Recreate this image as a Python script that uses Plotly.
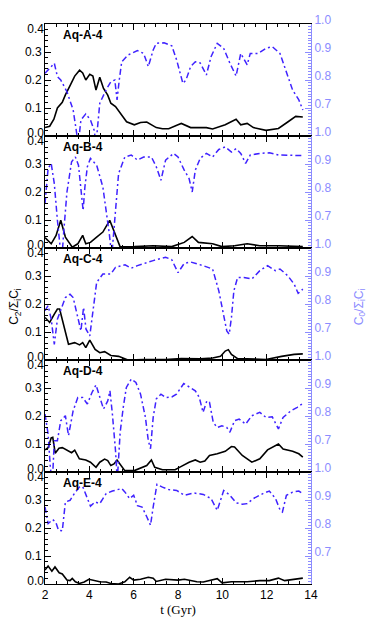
import plotly.graph_objects as go
from plotly.subplots import make_subplots

# ---- data (t in Gyr) ----
panels = ["Aq-A-4", "Aq-B-4", "Aq-C-4", "Aq-D-4", "Aq-E-4"]

tA_k = [2.0, 2.21, 2.4, 2.56, 2.78, 2.92, 3.13, 3.34, 3.56, 3.7, 3.84, 4.02, 4.16, 4.3, 4.47, 4.64, 4.83, 4.97,
        5.18, 5.39, 5.68, 6.03, 6.31, 6.59, 6.8, 7.02, 7.3, 7.58, 8.0, 8.15, 8.57, 9.28, 9.56, 10.13, 10.62, 10.83,
        11.12, 11.4, 11.97, 12.53, 12.95, 13.31, 13.63]
kA = [0.03, 0.035, 0.06, 0.10, 0.12, 0.147, 0.18, 0.214, 0.235, 0.225, 0.20, 0.22, 0.214, 0.164, 0.21, 0.17, 0.146,
      0.117, 0.105, 0.081, 0.051, 0.04, 0.048, 0.05, 0.04, 0.03, 0.026, 0.026, 0.04, 0.045, 0.03, 0.03, 0.025, 0.04,
      0.06, 0.04, 0.045, 0.03, 0.02, 0.027, 0.05, 0.07, 0.068]
tA_b = [2.0, 2.21, 2.42, 2.56, 2.71, 2.99, 3.27, 3.41, 3.5, 3.62, 3.84, 4.05, 4.22, 4.3, 4.47, 4.75, 4.97, 5.15,
        5.25, 5.35, 5.46, 5.74, 6.17, 6.45, 6.66, 6.88, 7.02, 7.37, 7.72, 7.94, 8.22, 8.36, 8.57, 8.78, 9.0, 9.28,
        9.49, 9.77, 10.06, 10.34, 10.62, 10.83, 11.12, 11.26, 11.61, 11.97, 12.25, 12.6, 12.89, 13.17, 13.45, 13.63]
bA = [0.824, 0.842, 0.86, 0.812, 0.80, 0.758, 0.693, 0.62, 0.57, 0.657, 0.679, 0.657, 0.62, 0.57, 0.717, 0.764,
      0.794, 0.80, 0.729, 0.80, 0.865, 0.889, 0.905, 0.895, 0.848, 0.907, 0.931, 0.933, 0.922, 0.871, 0.788, 0.80,
      0.848, 0.865, 0.861, 0.818, 0.883, 0.931, 0.913, 0.86, 0.814, 0.895, 0.854, 0.895, 0.895, 0.913, 0.919,
      0.895, 0.83, 0.764, 0.729, 0.693]

tB_k = [2.0, 2.28, 2.5, 2.71, 2.92, 3.23, 3.48, 3.7, 3.84, 4.05, 4.33, 4.61, 4.92, 5.18, 5.39, 6.03, 6.88, 7.72,
        8.28, 8.64, 8.92, 9.56, 9.98, 10.55, 11.12, 11.69, 12.53, 13.63]
kB = [0.037, 0.015, 0.045, 0.099, 0.039, 0.003, 0.015, 0.045, 0.015, 0.02, 0.039, 0.057, 0.099, 0.045, 0.004,
      0.005, 0.008, 0.005, 0.02, 0.041, 0.02, 0.015, 0.005, 0.008, 0.015, 0.008, 0.008, 0.005]
tB_b = [2.0, 2.14, 2.28, 2.42, 2.56, 2.75, 2.85, 2.99, 3.2, 3.37, 3.51, 3.62, 3.72, 3.8, 3.91, 4.05, 4.33, 4.61,
        4.76, 4.9, 5.01, 5.15, 5.32, 5.6, 5.89, 6.17, 6.45, 6.8, 7.02, 7.23, 7.44, 7.8, 8.0, 8.28, 8.5, 8.64, 8.78,
        9.0, 9.28, 9.56, 9.84, 10.13, 10.41, 10.62, 10.83, 11.05, 11.26, 11.69, 12.12, 12.53, 13.08, 13.63]
bB = [0.758, 0.884, 0.902, 0.83, 0.699, 0.55, 0.663, 0.80, 0.908, 0.925, 0.896, 0.818, 0.734, 0.818, 0.89, 0.92,
      0.896, 0.818, 0.734, 0.651, 0.57, 0.699, 0.866, 0.925, 0.932, 0.914, 0.925, 0.925, 0.89, 0.842, 0.914, 0.938,
      0.925, 0.878, 0.848, 0.80, 0.878, 0.92, 0.938, 0.925, 0.952, 0.961, 0.943, 0.955, 0.938, 0.902, 0.932, 0.938,
      0.94, 0.932, 0.932, 0.93]

tC_k = [2.0, 2.21, 2.42, 2.56, 2.66, 2.85, 3.06, 3.34, 3.56, 3.7, 3.84, 4.02, 4.26, 4.47, 4.69, 4.97, 5.32, 5.74,
        6.45, 7.44, 8.15, 9.0, 9.56, 9.92, 10.13, 10.27, 10.41, 10.69, 11.4, 11.97, 12.67, 13.24, 13.63]
kC = [0.152, 0.134, 0.164, 0.182, 0.182, 0.122, 0.056, 0.062, 0.054, 0.062, 0.044, 0.071, 0.038, 0.026, 0.03,
      0.016, 0.013, 0.0, 0.002, 0.002, 0.005, 0.004, 0.007, 0.013, 0.032, 0.037, 0.02, 0.005, 0.002, 0.002, 0.013,
      0.02, 0.022]
tC_b = [2.0, 2.14, 2.28, 2.42, 2.56, 2.71, 2.92, 3.13, 3.27, 3.48, 3.62, 3.74, 3.85, 4.02, 4.19, 4.33, 4.61, 4.97,
        5.18, 5.61, 5.89, 6.17, 6.88, 7.44, 7.72, 8.0, 8.28, 8.57, 9.13, 9.56, 9.84, 10.06, 10.2, 10.31, 10.41,
        10.52, 10.69, 10.97, 11.33, 11.69, 12.04, 12.39, 12.6, 12.95, 13.24, 13.42, 13.63]
bC = [0.776, 0.794, 0.746, 0.656, 0.746, 0.776, 0.823, 0.835, 0.823, 0.752, 0.704, 0.788, 0.71, 0.686, 0.788,
      0.877, 0.907, 0.907, 0.931, 0.94, 0.928, 0.937, 0.955, 0.967, 0.958, 0.912, 0.945, 0.95, 0.937, 0.925, 0.847,
      0.764, 0.704, 0.692, 0.752, 0.847, 0.895, 0.895, 0.889, 0.919, 0.937, 0.919, 0.925, 0.901, 0.871, 0.838, 0.853]

tD_k = [2.0, 2.14, 2.28, 2.35, 2.46, 2.63, 2.78, 3.06, 3.2, 3.34, 3.55, 3.84, 4.05, 4.3, 4.47, 4.69, 4.83, 4.97,
        5.11, 5.25, 5.39, 5.6, 6.03, 6.59, 6.8, 6.95, 7.3, 7.87, 8.15, 8.5, 8.78, 9.0, 9.21, 9.42, 9.77, 10.13,
        10.41, 10.55, 10.9, 11.33, 11.69, 12.04, 12.53, 12.74, 13.17, 13.45, 13.63]
kD = [0.079, 0.087, 0.122, 0.124, 0.067, 0.085, 0.087, 0.075, 0.069, 0.078, 0.047, 0.043, 0.035, 0.017, 0.035,
      0.046, 0.041, 0.023, 0.029, 0.043, 0.029, 0.005, 0.005, 0.023, 0.043, 0.017, 0.008, 0.008, 0.02, 0.035, 0.043,
      0.035, 0.039, 0.059, 0.065, 0.074, 0.091, 0.089, 0.059, 0.035, 0.047, 0.079, 0.1, 0.082, 0.074, 0.065, 0.053]
tD_b = [2.0, 2.14, 2.24, 2.33, 2.42, 2.56, 2.71, 2.92, 3.06, 3.27, 3.48, 3.7, 3.91, 4.12, 4.3, 4.47, 4.64, 4.83,
        4.93, 5.04, 5.18, 5.26, 5.39, 5.53, 5.67, 5.89, 6.1, 6.31, 6.53, 6.66, 6.76, 6.88, 7.02, 7.23, 7.44, 7.72,
        7.93, 8.26, 8.5, 8.78, 8.96, 9.13, 9.3, 9.42, 9.59, 9.77, 9.98, 10.2, 10.34, 10.55, 10.76, 11.05, 11.33,
        11.69, 11.97, 12.25, 12.53, 12.74, 13.1, 13.38, 13.63]
bD = [0.807, 0.736, 0.617, 0.56, 0.712, 0.712, 0.783, 0.801, 0.73, 0.819, 0.866, 0.866, 0.843, 0.884, 0.911, 0.866,
      0.825, 0.854, 0.89, 0.807, 0.677, 0.57, 0.741, 0.831, 0.902, 0.932, 0.92, 0.878, 0.795, 0.712, 0.683, 0.795,
      0.861, 0.878, 0.866, 0.868, 0.878, 0.916, 0.904, 0.89, 0.866, 0.813, 0.854, 0.849, 0.777, 0.759, 0.765,
      0.759, 0.742, 0.783, 0.789, 0.771, 0.801, 0.813, 0.795, 0.797, 0.754, 0.795, 0.819, 0.831, 0.845]

tE_k = [2.0, 2.14, 2.31, 2.45, 2.64, 2.78, 2.99, 3.13, 3.23, 3.37, 3.55, 3.77, 3.98, 4.19, 4.47, 4.76, 4.97, 5.32,
        5.6, 5.82, 6.0, 6.31, 6.66, 6.88, 7.02, 7.44, 8.0, 8.29, 8.85, 9.14, 9.42, 9.77, 9.99, 10.41, 11.12, 11.69,
        12.12, 12.53, 12.81, 13.24, 13.63]
kE = [0.05, 0.064, 0.046, 0.061, 0.04, 0.036, 0.014, 0.012, 0.02, 0.008, 0.002, 0.007, 0.017, 0.012, 0.008, 0.007,
      0.002, 0.0, 0.008, 0.024, 0.014, 0.017, 0.024, 0.021, 0.009, 0.017, 0.014, 0.017, 0.008, 0.007, 0.012, 0.019,
      0.004, 0.008, 0.008, 0.012, 0.012, 0.021, 0.012, 0.017, 0.021]
tE_b = [2.0, 2.14, 2.35, 2.49, 2.61, 2.78, 2.92, 3.13, 3.34, 3.55, 3.7, 3.84, 4.05, 4.26, 4.47, 4.76, 5.04, 5.46,
        5.6, 5.82, 6.0, 6.17, 6.38, 6.59, 6.76, 6.88, 7.05, 7.3, 7.58, 7.94, 8.29, 8.71, 9.14, 9.49, 9.77, 10.06,
        10.34, 10.62, 10.9, 11.12, 11.4, 11.83, 12.12, 12.4, 12.61, 12.71, 12.89, 13.17, 13.45, 13.63]
bE = [0.875, 0.816, 0.83, 0.82, 0.792, 0.79, 0.893, 0.899, 0.925, 0.946, 0.948, 0.917, 0.878, 0.893, 0.887, 0.923,
      0.932, 0.941, 0.929, 0.905, 0.917, 0.88, 0.875, 0.84, 0.81, 0.875, 0.956, 0.946, 0.937, 0.934, 0.917, 0.925,
      0.92, 0.905, 0.863, 0.934, 0.917, 0.89, 0.885, 0.887, 0.905, 0.923, 0.932, 0.905, 0.863, 0.857, 0.917, 0.928,
      0.932, 0.923]

black = [(tA_k, kA), (tB_k, kB), (tC_k, kC), (tD_k, kD), (tE_k, kE)]
blue = [(tA_b, bA), (tB_b, bB), (tC_b, bC), (tD_b, bD), (tE_b, bE)]

BLUE = "#3f22ff"
LAV = "#8c8cff"
SANS = "Liberation Sans, Arial, sans-serif"
SERIF = "Liberation Serif, Times New Roman, serif"

fig = make_subplots(rows=5, cols=1, shared_xaxes=True, vertical_spacing=0,
                    specs=[[{"secondary_y": True}]] * 5)

for i in range(5):
    r = i + 1
    fig.add_trace(go.Scatter(x=black[i][0], y=black[i][1], mode="lines",
                             line=dict(color="black", width=1.6), showlegend=False),
                  row=r, col=1, secondary_y=False)
    fig.add_trace(go.Scatter(x=blue[i][0], y=blue[i][1], mode="lines",
                             line=dict(color=BLUE, width=1.5, dash="6px,3px,2px,3px"), showlegend=False),
                  row=r, col=1, secondary_y=True)

    fig.update_yaxes(row=r, col=1, secondary_y=False, range=[0, 0.4],
                     tickvals=[0, 0.1, 0.2, 0.3, 0.4], ticktext=["", "0.1", "0.2", "0.3", ""],
                     ticks="inside", ticklen=6, tickcolor="black", showline=True, linecolor="black",
                     linewidth=1, showgrid=False, zeroline=False, automargin=False,
                     tickfont=dict(family=SANS, size=12, color="black"),
                     minor=dict(ticks="inside", dtick=0.02, ticklen=3, tickcolor="black"))
    fig.update_yaxes(row=r, col=1, secondary_y=True, range=[0.6, 1.0],
                     tickvals=[0.7, 0.8, 0.9, 1.0], ticktext=["0.7", "0.8", "0.9", "1.0"],
                     ticks="inside", ticklen=6, tickcolor=LAV, showline=True, linecolor=LAV,
                     linewidth=1, showgrid=False, zeroline=False, ticklabelshift=-4, automargin=False,
                     tickfont=dict(family=SANS, size=12, color=LAV),
                     minor=dict(ticks="inside", dtick=0.01, ticklen=3, tickcolor=LAV))
    fig.update_xaxes(row=r, col=1, range=[2, 14], dtick=2, ticks="inside", ticklen=6,
                     tickcolor="black", showline=True, linecolor="black", linewidth=1, mirror="ticks",
                     showgrid=False, zeroline=False, automargin=False, ticklabelstandoff=0,
                     tickfont=dict(family=SANS, size=12, color="black"),
                     minor=dict(ticks="inside", dtick=0.5, ticklen=3, tickcolor="black"))

    # end labels 0.0 / 0.4 nudged inward, IDL style, on overlay axes
    xname = "x" if r == 1 else "x%d" % r
    yprim = "y" if r == 1 else "y%d" % (2 * i + 1)
    for k, (val, txt, shift) in enumerate([(0.0, "0.0", -3), (0.4, "0.4", 5)]):
        n = 11 + 2 * i + k
        fig.layout["yaxis%d" % n] = dict(overlaying=yprim, anchor=xname, side="left", range=[0, 0.4],
                                        tickvals=[val], ticktext=[txt], ticks="", showline=False,
                                        showgrid=False, zeroline=False, ticklabelshift=shift,
                                        automargin=False,
                                        tickfont=dict(family=SANS, size=12, color="black"))
        fig.add_trace(go.Scatter(x=[None], y=[None], xaxis=xname, yaxis="y%d" % n,
                                 showlegend=False, hoverinfo="skip"))

    fig.add_annotation(text="<b>%s</b>" % panels[i], xref="x", x=2.7, xanchor="left",
                       yref=yprim + " domain", y=1, yanchor="top",
                       yshift=-2, showarrow=False, font=dict(family=SANS, size=12, color="black"))

fig.update_xaxes(row=5, col=1, title=dict(text="t (Gyr)", standoff=1,
                                          font=dict(family=SERIF, size=13, color="black")))

fig.add_annotation(text="C<sub>2</sub>/Σ<sub>i</sub>C<sub>i</sub>", xref="paper", yref="paper",
                   x=-0.104, xanchor="center", y=0.496, yanchor="middle", textangle=-90, showarrow=False,
                   font=dict(family=SANS, size=12, color="black"))
fig.add_annotation(text="C<sub>0</sub>/Σ<sub>i</sub>C<sub>i</sub>", xref="paper", yref="paper",
                   x=1.113, xanchor="center", y=0.496, yanchor="middle", textangle=-90, showarrow=False,
                   font=dict(family=SANS, size=12, color=LAV))

# the page body adds an 8px offset, so top/left margins are trimmed to keep the plot area in place
fig.update_layout(width=374, height=622, margin=dict(l=37, r=54, t=16, b=46),
                  plot_bgcolor="white", paper_bgcolor="white", showlegend=False)

fig.write_html("out.html")
